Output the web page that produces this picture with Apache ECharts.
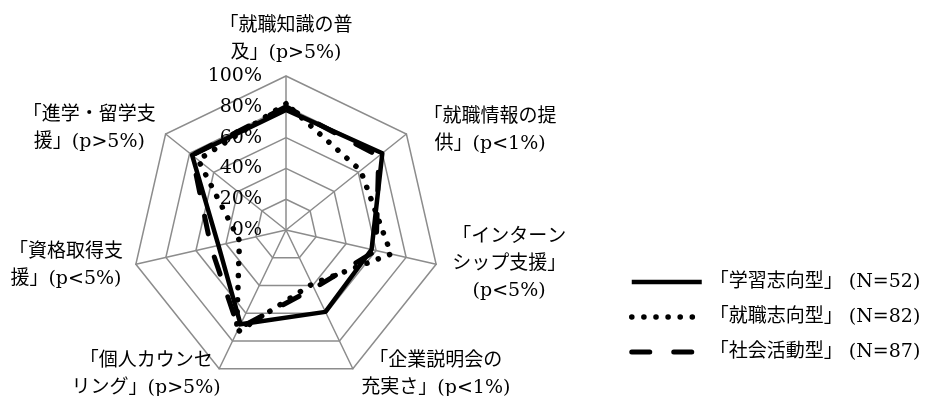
<!DOCTYPE html>
<html>
<head>
<meta charset="utf-8">
<script src="https://cdn.jsdelivr.net/npm/echarts@6/dist/echarts.min.js"></script>
<style>
html, body { margin: 0; padding: 0; background: #fff; }
#main { width: 941px; height: 396px; }
</style>
</head>
<body>
<div id="main"></div>
<script>
// 評価項目（上から時計回り）
const axisNames = [
    '「就職知識の普\n及」(p>5%)',
    '「就職情報の提\n供」(p<1%)',
    '「インターン\nシップ支援」\n(p<5%)',
    '「企業説明会の\n充実さ」(p<1%)',
    '「個人カウンセ\nリング」(p>5%)',
    '「資格取得支\n援」(p<5%)',
    '「進学・留学支\n援」(p>5%)'
];
const groupNames = ['「学習志向型」 (N=52)', '「就職志向型」 (N=82)', '「社会活動型」 (N=87)'];
// 値（%）
const studyType = [78, 80, 57, 59, 68, 45, 78];
const jobType = [82, 62, 70, 39, 74, 31, 73];
const socialType = [80, 77, 60, 42, 71, 50, 78];
const axisMax = 100;

// echartsは反時計回りに並べるので順番を入れ替える
const order = [0, 6, 5, 4, 3, 2, 1];
const reorder = arr => order.map(i => arr[i]);

// ラベル配置
const nameGaps = [9, 6, 0, 7, 7, 4, 8];
const nameWidths = [160, 158, 146, 160, 140, 132, 140];
const serif = "'DejaVu Serif', 'Noto Sans CJK JP', serif";

let rich = {};
nameWidths.forEach((w, i) => {
    rich['n' + i] = { width: w, align: 'center', lineHeight: 27, fontSize: 19, fontFamily: serif, color: '#000' };
});

const indicator = order.map(i => {
    let ind = { name: axisNames[i], min: 0, max: axisMax, nameGap: nameGaps[i] };
    if (i === 0) ind.axisLabel = { show: true };
    return ind;
});

const gray = '#8c8c8c';
const styles = [
    { color: '#000', width: 4.5, type: 'solid' },
    { color: '#000', width: 5.5, type: [0.1, 12], cap: 'round' },
    { color: '#000', width: 5, type: [18, 24], cap: 'round' }
];
const values = [studyType, jobType, socialType];

let myChart = echarts.init(document.getElementById('main'));
let option = {
    animation: false,
    backgroundColor: '#fff',
    legend: {
        orient: 'vertical',
        left: 624,
        top: 266,
        itemWidth: 70,
        itemHeight: 14,
        itemGap: 13,
        data: groupNames,
        lineStyle: { width: 'inherit' },
        itemStyle: { color: 'rgba(0,0,0,0)', borderColor: 'rgba(0,0,0,0)', borderWidth: 0 },
        textStyle: { color: '#000', fontSize: 19, fontFamily: serif, lineHeight: 22, padding: [0, 0, 0, 3] }
    },
    grid: { show: false, left: 0, top: 0, width: 10, height: 10 },
    xAxis: { show: false, type: 'category', data: [] },
    yAxis: { show: false, type: 'value' },
    radar: {
        center: [286, 230],
        radius: 154,
        startAngle: 90,
        splitNumber: 5,
        shape: 'polygon',
        indicator: indicator,
        axisName: {
            color: '#000',
            fontSize: 19,
            fontFamily: serif,
            formatter: (name) => {
                let idx = axisNames.indexOf(name);
                return name.split('\n').map(s => '{n' + idx + '|' + s + '}').join('\n');
            },
            rich: rich
        },
        axisLine: { lineStyle: { color: gray, width: 1.5 } },
        splitLine: { lineStyle: { color: gray, width: 1.5 } },
        splitArea: { show: false },
        axisTick: { show: false },
        axisLabel: {
            show: false,
            formatter: '{value}%',
            color: '#000',
            fontSize: 19,
            fontFamily: serif,
            margin: 24
        }
    },
    series: groupNames.map((name, k) => ({
        type: 'line',
        name: name,
        data: [],
        symbol: 'none',
        lineStyle: styles[k]
    })).concat([{
        type: 'radar',
        name: 'radar',
        symbol: 'none',
        data: groupNames.map((name, k) => ({
            name: name,
            value: reorder(values[k]),
            lineStyle: styles[k]
        }))
    }])
};
myChart.setOption(option);
</script>
</body>
</html>
